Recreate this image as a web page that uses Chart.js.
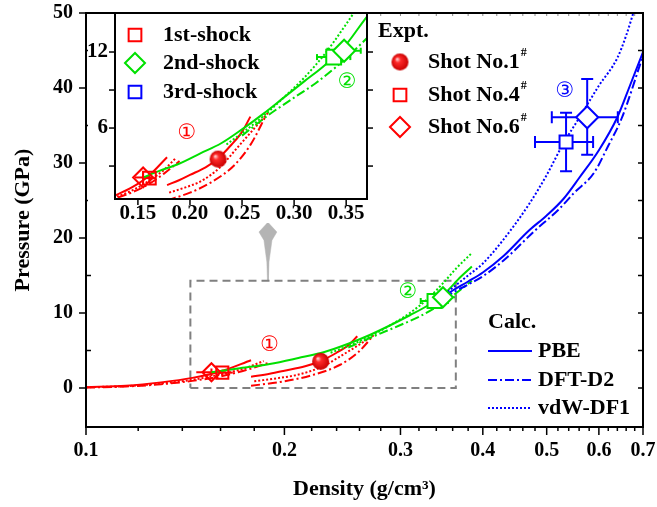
<!DOCTYPE html>
<html lang="en">
<head>
<meta charset="UTF-8">
<title>Pressure vs density</title>
<script src="https://cdn.jsdelivr.net/npm/chart.js@4.4.1/dist/chart.umd.min.js"></script>
<style>
  body { margin: 0; background: #fff; }
  #wrap { position: relative; width: 657px; height: 507px; }
  #main { position: absolute; left: 0; top: 0; }
  #inset { position: absolute; left: 88px; top: 14px; background: #fff; }
</style>
</head>
<body>
<div id="wrap">
  <canvas id="main" width="657" height="507"></canvas>
  <canvas id="inset" width="287" height="209"></canvas>
</div>
<script>
// ---- ticks ----
const xMajor = [0.1, 0.2, 0.3, 0.4, 0.5, 0.6, 0.7];
const yMajor = [0, 10, 20, 30, 40, 50];
const yMinor = [5, 15, 25, 35, 45];
const insetXMajor = [0.15, 0.20, 0.25, 0.30, 0.35];
const insetYMajor = [6, 12];
const insetYMinor = [3, 9];

// ---- 3rd shock, calculated (density, pressure) ----
const pbe = [[0.35,12.3],[0.36,13.0],[0.38,14.2],[0.4,15.4],[0.43,17.6],[0.47,21],[0.5,23],[0.53,25.2],[0.56,28],[0.6,31.7],[0.64,36.1],[0.67,40.5],[0.7,44.8]];
const dftD2 = [[0.35,12.0],[0.36,12.7],[0.38,13.8],[0.4,14.9],[0.43,17],[0.48,21],[0.52,23.7],[0.55,26],[0.59,28.7],[0.62,32.3],[0.65,36],[0.7,44.3]];
const vdwDF1 = [[0.35,12.5],[0.38,15],[0.4,16.6],[0.43,19.8],[0.47,24.5],[0.5,28.4],[0.53,32.6],[0.56,36],[0.6,40.3],[0.64,44],[0.66,47],[0.68,50.6]];

// ---- 2nd shock ----
const g2Solid = [[0.155,2.1],[0.17,2.6],[0.19,3.2],[0.21,4.0],[0.23,4.8],[0.25,5.9],[0.27,7.1],[0.29,8.4],[0.31,9.7],[0.33,11.0],[0.35,12.6],[0.37,14.8],[0.385,16.2]];
const g2Dot = [[0.235,4.7],[0.25,5.6],[0.27,6.9],[0.29,8.4],[0.31,10.0],[0.33,11.9],[0.35,14.2],[0.365,16.0],[0.385,18.0]];
const g2DashDot = [[0.25,5.4],[0.275,7.0],[0.3,8.4],[0.32,9.5],[0.34,10.8],[0.36,12.3],[0.37,13.1],[0.385,14.3]];

// ---- 1st shock (two starting densities) ----
const r1aSolid = [[0.1,0.1],[0.115,0.3],[0.13,0.75],[0.145,1.35],[0.16,2.2],[0.178,3.7]];
const r1aDot = [[0.1,0.1],[0.115,0.25],[0.13,0.6],[0.145,1.1],[0.16,1.8],[0.175,2.7],[0.186,3.6]];
const r1aDashDot = [[0.1,0.05],[0.115,0.2],[0.13,0.5],[0.145,0.95],[0.16,1.55],[0.175,2.4],[0.19,3.4]];
const r1bSolid = [[0.178,1.5],[0.19,1.9],[0.2,2.3],[0.215,2.9],[0.227,3.6],[0.24,4.7],[0.25,5.7],[0.258,6.9]];
const r1bDot = [[0.18,0.9],[0.195,1.3],[0.208,1.7],[0.22,2.3],[0.23,3.0],[0.246,4.5],[0.26,5.8],[0.275,7.2]];
const r1bDashDot = [[0.178,0.3],[0.2,0.9],[0.22,1.7],[0.243,3.1],[0.259,4.8],[0.273,7.0]];

// ---- experiments: x, y, x range, y range ----
const shot1 = {x: 0.227, y: 3.55};
const shot4 = {x: 0.161, y: 2.05, xLo: 0.155, xHi: 0.167, yLo: 1.65, yHi: 2.45};
const shot6 = {x: 0.155, y: 2.1, xLo: 0.147, xHi: 0.163, yLo: 1.6, yHi: 2.6};
const shock2Sq = {x: 0.338, y: 11.6, xLo: 0.322, xHi: 0.354, yLo: 11.1, yHi: 12.1};
const shock2Di = {x: 0.348, y: 12.1, xLo: 0.332, xHi: 0.364, yLo: 11.6, yHi: 12.6};
const shock3Sq = {x: 0.535, y: 32.8, xLo: 0.48, xHi: 0.588, yLo: 28.9, yHi: 36.7};
const shock3Di = {x: 0.576, y: 36.1, xLo: 0.509, xHi: 0.641, yLo: 31.1, yHi: 41.2};

// zoom box and arrow (data coords)
const zoomBox = [[0.144,0],[0.364,0],[0.364,14.3],[0.144,14.3],[0.144,0]];
const arrow = [[0.1888,22.1],[0.1948,20.8],[0.1915,19.7],[0.1895,16.8],[0.1891,14.3],[0.1885,14.3],[0.1881,16.8],[0.1862,19.7],[0.183,20.8],[0.1888,22.1]];

const RED = '#ff0000', GREEN = '#00e000', BLUE = '#0000ff';
const SERIF = '"Liberation Serif", "Times New Roman", serif';
const DASH = {solid: [], dot: [2, 2], dashdot: [9, 3, 2, 3]};

function pts(a) { return a.map(p => ({x: p[0], y: p[1]})); }
function curve(data, color, style) {
  return {data: pts(data), showLine: true, borderColor: color, borderWidth: 2, borderDash: DASH[style],
          pointRadius: 0, cubicInterpolationMode: 'monotone', fill: false};
}
function marker(p, style, r, color, bg) {
  return {data: [{x: p.x, y: p.y}], showLine: false, pointStyle: style, pointRadius: r,
          borderColor: color, pointBorderColor: color, backgroundColor: bg || 'rgba(0,0,0,0)',
          pointBackgroundColor: bg || 'rgba(0,0,0,0)', borderWidth: 2, pointBorderWidth: 2};
}
function makeBall(r) {
  const c = document.createElement('canvas');
  c.width = c.height = 2 * r + 2;
  const g = c.getContext('2d'), m = r + 1;
  const grad = g.createRadialGradient(m - r * 0.35, m - r * 0.35, r * 0.05, m, m, r);
  grad.addColorStop(0, '#ffd0d0');
  grad.addColorStop(0.3, '#ff2a2a');
  grad.addColorStop(1, '#c80000');
  g.fillStyle = grad;
  g.beginPath(); g.arc(m, m, r, 0, Math.PI * 2); g.fill();
  return c;
}
const ball = makeBall(8.5);

function seg(ctx, x1, y1, x2, y2) { ctx.beginPath(); ctx.moveTo(x1, y1); ctx.lineTo(x2, y2); ctx.stroke(); }
function drawShape(ctx, kind, x, y, r, color, fill) {
  ctx.save();
  ctx.strokeStyle = color; ctx.lineWidth = 2;
  ctx.beginPath();
  if (kind === 'rect') { const s = r * Math.SQRT1_2; ctx.rect(x - s, y - s, 2 * s, 2 * s); }
  else { ctx.moveTo(x - r, y); ctx.lineTo(x, y - r); ctx.lineTo(x + r, y); ctx.lineTo(x, y + r); ctx.closePath(); }
  if (fill) { ctx.fillStyle = fill; ctx.fill(); }
  ctx.stroke();
  ctx.restore();
}
function text(ctx, s, x, y, size, color, align) {
  ctx.font = 'bold ' + size + 'px ' + SERIF;
  ctx.fillStyle = color || '#000';
  ctx.textAlign = align || 'left';
  ctx.textBaseline = 'middle';
  ctx.fillText(s, x, y);
  return ctx.measureText(s).width;
}

// error bars, drawn under the markers
const errorBars = {
  id: 'errorBars',
  beforeDatasetsDraw(chart, args, opts) {
    const {ctx, chartArea: a, scales: {x, y}} = chart;
    ctx.save();
    ctx.beginPath(); ctx.rect(a.left, a.top, a.right - a.left, a.bottom - a.top); ctx.clip();
    opts.bars.forEach(b => {
      const p = b.p, c = b.cap;
      const px = x.getPixelForValue(p.x), py = y.getPixelForValue(p.y);
      const x0 = x.getPixelForValue(p.xLo), x1 = x.getPixelForValue(p.xHi);
      const y0 = y.getPixelForValue(p.yLo), y1 = y.getPixelForValue(p.yHi);
      ctx.strokeStyle = b.color; ctx.lineWidth = 2;
      seg(ctx, x0, py, x1, py); seg(ctx, px, y0, px, y1);
      if (c) { seg(ctx, x0, py - c, x0, py + c); seg(ctx, x1, py - c, x1, py + c);
               seg(ctx, px - c, y0, px + c, y0); seg(ctx, px - c, y1, px + c, y1); }
    });
    ctx.restore();
  }
};

// circled numbers placed in data coords
const notes = {
  id: 'notes',
  afterDatasetsDraw(chart, args, opts) {
    const {ctx, scales: {x, y}} = chart;
    ctx.save();
    ctx.font = '21px "DejaVu Sans", sans-serif';
    ctx.textAlign = 'center'; ctx.textBaseline = 'middle';
    opts.items.forEach(n => { ctx.fillStyle = n.color; ctx.fillText(n.t, x.getPixelForValue(n.x), y.getPixelForValue(n.y)); });
    ctx.restore();
  }
};

const xMinor = [];
for (let v = 0.12; v < 0.7; v += 0.02) {
  const r = Math.round(v * 100) / 100;
  if (!xMajor.some(m => Math.abs(m - r) < 1e-6)) xMinor.push(r);
}

const mainFrame = {
  id: 'mainFrame',
  afterDraw(chart) {
    const {ctx, chartArea: a, scales: {x, y}} = chart;
    ctx.save();
    ctx.strokeStyle = '#000';
    ctx.lineWidth = 1.5;
    xMajor.forEach(v => { const p = x.getPixelForValue(v); seg(ctx, p, a.bottom, p, a.bottom + 8); });
    xMinor.forEach(v => { const p = x.getPixelForValue(v); seg(ctx, p, a.bottom, p, a.bottom + 4); });
    ctx.lineWidth = 1; ctx.strokeStyle = '#888';
    xMajor.concat(xMinor).forEach(v => { const p = x.getPixelForValue(v); seg(ctx, p, a.top, p, a.top + 3); });
    ctx.strokeStyle = '#000'; ctx.lineWidth = 1.5;
    yMajor.forEach(v => { const p = y.getPixelForValue(v); seg(ctx, a.left - 7, p, a.left, p); seg(ctx, a.right - 5, p, a.right, p); });
    yMinor.forEach(v => { const p = y.getPixelForValue(v); seg(ctx, a.left, p, a.left + 5, p); seg(ctx, a.right - 5, p, a.right, p); });
    ctx.lineWidth = 2;
    ctx.strokeRect(a.left, a.top, a.right - a.left, a.bottom - a.top);

    // Expt. legend
    text(ctx, 'Expt.', 378, 31, 22);
    ctx.drawImage(ball, 400 - ball.width / 2, 62 - ball.height / 2);
    drawShape(ctx, 'rect', 400, 95, 9, RED);
    drawShape(ctx, 'rectRot', 400, 127, 10, RED);
    [['Shot No.1', 62], ['Shot No.4', 95], ['Shot No.6', 127]].forEach(([s, yy]) => {
      const w = text(ctx, s, 428, yy, 22);
      text(ctx, '#', 428 + w + 1, yy - 9, 12);
    });
    // Calc. legend
    text(ctx, 'Calc.', 488, 322, 22);
    [['PBE', 351, 'solid'], ['DFT-D2', 380, 'dashdot'], ['vdW-DF1', 408, 'dot']].forEach(([s, yy, st]) => {
      ctx.strokeStyle = BLUE; ctx.lineWidth = 2; ctx.setLineDash(DASH[st]);
      seg(ctx, 488, yy, 532, yy);
      ctx.setLineDash([]);
      text(ctx, s, 538, yy, 22);
    });
    ctx.restore();
  }
};

const insetFrame = {
  id: 'insetFrame',
  afterDraw(chart) {
    const {ctx, chartArea: a, scales: {x, y}} = chart;
    ctx.save();
    ctx.strokeStyle = '#000'; ctx.lineWidth = 1.5;
    insetXMajor.forEach(v => { const p = x.getPixelForValue(v); seg(ctx, p, a.bottom, p, a.bottom + 6); });
    insetYMajor.concat(insetYMinor).forEach(v => {
      const p = y.getPixelForValue(v);
      seg(ctx, a.left - 6, p, a.left, p); seg(ctx, a.right, p, a.right + 6, p);
    });
    ctx.lineWidth = 2;
    ctx.beginPath();
    ctx.moveTo(a.left, a.top); ctx.lineTo(a.left, a.bottom); ctx.lineTo(a.right, a.bottom); ctx.lineTo(a.right, a.top);
    ctx.stroke();
    // shock legend
    [['1st-shock', RED, 'rect', 9, 21], ['2nd-shock', GREEN, 'rectRot', 10, 49], ['3rd-shock', BLUE, 'rect', 9, 78]].forEach(([s, c, k, r, yy]) => {
      drawShape(ctx, k, 47, yy, r, c);
      text(ctx, s, 75, yy, 22);
    });
    ctx.restore();
  }
};

function tickFont(size) { return {family: SERIF, weight: 'bold', size: size}; }
function zeroPad(s) { s.paddingTop = 0; s.paddingBottom = 0; s.paddingLeft = 0; s.paddingRight = 0; }
const noGrid = {display: false, drawTicks: false};

// ---- main chart ----
new Chart(document.getElementById('main'), {
  type: 'scatter',
  data: {
    datasets: [
      marker(shock3Di, 'rectRot', 11, BLUE, '#fff'),
      marker(shock3Sq, 'rect', 9.2, BLUE, '#fff'),
      marker(shock2Di, 'rectRot', 10, GREEN, '#fff'),
      marker(shock2Sq, 'rect', 10, GREEN, '#fff'),
      {data: [shot1], showLine: false, pointStyle: ball, pointRadius: 8.5},
      marker(shot4, 'rect', 8.5, RED),
      marker(shot6, 'rectRot', 9, RED),
      curve(pbe, BLUE, 'solid'),
      curve(dftD2, BLUE, 'dashdot'),
      curve(vdwDF1, BLUE, 'dot'),
      curve(g2Solid, GREEN, 'solid'),
      curve(g2Dot, GREEN, 'dot'),
      curve(g2DashDot, GREEN, 'dashdot'),
      curve(r1aSolid, RED, 'solid'),
      curve(r1aDot, RED, 'dot'),
      curve(r1aDashDot, RED, 'dashdot'),
      curve(r1bSolid, RED, 'solid'),
      curve(r1bDot, RED, 'dot'),
      curve(r1bDashDot, RED, 'dashdot'),
      {data: pts(zoomBox), showLine: true, borderColor: '#808080', borderWidth: 2, borderDash: [8, 5], pointRadius: 0, tension: 0},
      {data: pts(arrow), showLine: true, borderColor: '#b4b4b4', borderWidth: 0.5, backgroundColor: '#b4b4b4', fill: 'shape', pointRadius: 0, tension: 0}
    ]
  },
  options: {
    responsive: false, animation: false, events: [],
    layout: {autoPadding: false, padding: {top: 13, right: 14, left: 0, bottom: 0}},
    plugins: {
      legend: {display: false}, tooltip: {enabled: false},
      errorBars: {bars: [
        {p: shot6, color: RED, cap: 0}, {p: shot4, color: RED, cap: 0},
        {p: shock2Sq, color: GREEN, cap: 3}, {p: shock2Di, color: GREEN, cap: 3},
        {p: shock3Sq, color: BLUE, cap: 6}, {p: shock3Di, color: BLUE, cap: 6}
      ]},
      notes: {items: [
        {t: '\u2460', x: 0.19, y: 5.7, color: RED},
        {t: '\u2461', x: 0.308, y: 12.7, color: GREEN},
        {t: '\u2462', x: 0.533, y: 39.5, color: BLUE}
      ]}
    },
    scales: {
      x: {
        type: 'logarithmic', min: 0.1, max: 0.7,
        grid: noGrid, border: {display: false},
        afterBuildTicks: s => { s.ticks = xMajor.map(v => ({value: v})); },
        afterFit: s => { s.height = 80; zeroPad(s); },
        ticks: {autoSkip: false, maxRotation: 0, padding: 12, color: '#000', font: tickFont(20), callback: v => v.toFixed(1)},
        title: {display: true, text: 'Density (g/cm\u00b3)', color: '#000', font: tickFont(22), padding: {top: 0, bottom: 4}}
      },
      y: {
        type: 'linear', min: -5.2, max: 50,
        grid: noGrid, border: {display: false},
        afterBuildTicks: s => { s.ticks = yMajor.map(v => ({value: v})); },
        afterFit: s => { s.width = 86; zeroPad(s); },
        ticks: {padding: 13, color: '#000', font: tickFont(20)},
        title: {display: true, text: 'Pressure (GPa)', color: '#000', font: tickFont(22), padding: {top: 10, bottom: 0}}
      }
    }
  },
  plugins: [errorBars, notes, mainFrame]
});

// ---- inset (linear density axis) ----
new Chart(document.getElementById('inset'), {
  type: 'scatter',
  data: {
    datasets: [
      marker(shock2Di, 'rectRot', 11, GREEN, '#fff'),
      marker(shock2Sq, 'rect', 10.5, GREEN, '#fff'),
      {data: [shot1], showLine: false, pointStyle: ball, pointRadius: 8.5},
      marker(shot4, 'rect', 9, RED),
      marker(shot6, 'rectRot', 10, RED),
      curve(g2Solid, GREEN, 'solid'),
      curve(g2Dot, GREEN, 'dot'),
      curve(g2DashDot, GREEN, 'dashdot'),
      curve(r1aSolid, RED, 'solid'),
      curve(r1aDot, RED, 'dot'),
      curve(r1aDashDot, RED, 'dashdot'),
      curve(r1bSolid, RED, 'solid'),
      curve(r1bDot, RED, 'dot'),
      curve(r1bDashDot, RED, 'dashdot')
    ]
  },
  options: {
    responsive: false, animation: false, events: [],
    layout: {autoPadding: false, padding: {top: 0, right: 8, left: 0, bottom: 0}},
    plugins: {
      legend: {display: false}, tooltip: {enabled: false},
      errorBars: {bars: [
        {p: shot6, color: RED, cap: 0}, {p: shot4, color: RED, cap: 0},
        {p: shock2Sq, color: GREEN, cap: 3}, {p: shock2Di, color: GREEN, cap: 3}
      ]},
      notes: {items: [
        {t: '\u2460', x: 0.197, y: 5.6, color: RED},
        {t: '\u2461', x: 0.351, y: 9.6, color: GREEN}
      ]}
    },
    scales: {
      x: {
        type: 'linear', min: 0.128, max: 0.37,
        grid: noGrid, border: {display: false},
        afterBuildTicks: s => { s.ticks = insetXMajor.map(v => ({value: v})); },
        afterFit: s => { s.height = 24; zeroPad(s); },
        ticks: {autoSkip: false, maxRotation: 0, padding: 2, color: '#000', font: tickFont(21), callback: v => v.toFixed(2)}
      },
      y: {
        type: 'linear', min: 0.4, max: 15,
        grid: noGrid, border: {display: false},
        afterBuildTicks: s => { s.ticks = insetYMajor.map(v => ({value: v})); },
        afterFit: s => { s.width = 27; zeroPad(s); },
        ticks: {padding: 7, color: '#000', font: tickFont(21)}
      }
    }
  },
  plugins: [errorBars, notes, insetFrame]
});
</script>
</body>
</html>
